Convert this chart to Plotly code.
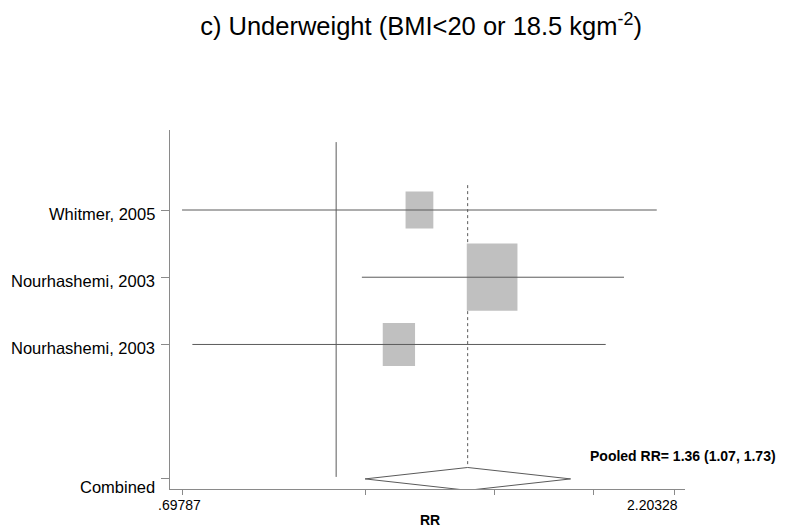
import numpy as np
import plotly.graph_objects as go

# study data
studies = ["Whitmer, 2005", "Nourhashemi, 2003", "Nourhashemi, 2003"]
rr = [1.215, 1.44, 1.158]
ci_lo = [0.6975, 1.062, 0.7145]
ci_hi = [2.116, 1.96, 1.878]
weights = [17.6, 58.6, 23.8]
rows = [1, 2, 3]

pooled_label = "Combined"
pooled_row = 5
pooled = 1.36
pooled_lo = 1.07
pooled_hi = 1.73
null_value = 1

xticks = [0.69787, 1.072, 1.448, 1.825, 2.20328]
xtick_text = [".69787", "", "", "", "2.20328"]

font = "Arial, Liberation Sans, sans-serif"
line_col = "#5a5a5a"
axis_col = "#8a8a8a"

fig = go.Figure()

# null line and pooled estimate line
fig.add_trace(go.Scatter(x=[null_value, null_value], y=[-0.01, pooled_row - 0.03],
                         mode="lines", line=dict(color=line_col, width=1),
                         hoverinfo="skip", showlegend=False))
fig.add_trace(go.Scatter(x=[pooled, pooled], y=[0.63, pooled_row - 0.18],
                         mode="lines", line=dict(color=line_col, width=1, dash="3px,3px"),
                         hoverinfo="skip", showlegend=False))

# weight boxes
for r, est, w in zip(rows, rr, weights):
    hw = 0.00774 * np.sqrt(w)
    hh = 0.0653 * np.sqrt(w)
    xl, xr = est * np.exp(-hw), est * np.exp(hw)
    fig.add_trace(go.Scatter(x=[xl, xr, xr, xl, xl], y=[r - hh, r - hh, r + hh, r + hh, r - hh],
                             mode="lines", fill="toself", fillcolor="#c0c0c0",
                             line=dict(width=0), hoverinfo="skip", showlegend=False))

# confidence intervals
for r, lo, hi in zip(rows, ci_lo, ci_hi):
    fig.add_trace(go.Scatter(x=[lo, hi], y=[r, r], mode="lines",
                             line=dict(color=line_col, width=1),
                             hoverinfo="skip", showlegend=False))

# pooled diamond
dh = 0.17
fig.add_trace(go.Scatter(x=[pooled_lo, pooled, pooled_hi, pooled, pooled_lo],
                         y=[pooled_row, pooled_row - dh, pooled_row, pooled_row + dh, pooled_row],
                         mode="lines", fill="toself", fillcolor="white",
                         line=dict(color=line_col, width=1),
                         hoverinfo="skip", showlegend=False))

annotations = []
for lab, r in zip(studies + [pooled_label], rows + [pooled_row]):
    annotations.append(dict(x=0, xref="paper", y=r, yref="y", text=lab,
                            xanchor="right", yanchor="middle", xshift=-13,
                            yshift=-8 if lab == pooled_label else -4,
                            showarrow=False, font=dict(size=16.5, color="black", family=font)))

for v, t in zip(xticks, xtick_text):
    if t:
        annotations.append(dict(x=np.log10(v), xref="x", y=0, yref="paper", text=t,
                                xanchor="center", yanchor="middle", yshift=-16,
                                xshift=-22 if v > 2 else -3,
                                showarrow=False, font=dict(size=14, color="black", family=font)))

annotations.append(dict(x=0.5, xref="paper", y=-0.0864, yref="paper", text="<b>RR</b>",
                        xshift=2, yanchor="middle", showarrow=False,
                        font=dict(size=14, color="black", family=font)))

annotations.append(dict(x=np.log10(1.80), xref="x", y=4.66, yref="y",
                        text=f"<b>Pooled RR= {pooled:.2f} ({pooled_lo:.2f}, {pooled_hi:.2f})</b>",
                        xanchor="left", yanchor="middle", showarrow=False,
                        font=dict(size=14, color="black", family=font)))

fig.update_layout(
    width=792, height=524,
    margin=dict(l=162, r=115, t=122, b=43),
    plot_bgcolor="white", paper_bgcolor="white",
    title=dict(text="c) Underweight (BMI<20 or 18.5 kgm<sup>-2</sup>)",
               x=0.5215, xanchor="center", y=0.965, yanchor="middle",
               font=dict(size=25.5, color="black", family=font)),
    xaxis=dict(type="log", range=[-0.1687, 0.3542], tickvals=xticks,
               showticklabels=False, ticks="outside", ticklen=5, tickcolor=axis_col,
               showline=True, linecolor=axis_col, linewidth=1,
               showgrid=False, zeroline=False),
    yaxis=dict(range=[5.15, -0.19], tickvals=rows + [pooled_row],
               showticklabels=False, ticks="outside", ticklen=8, tickcolor=axis_col,
               showline=True, linecolor=axis_col, linewidth=1,
               showgrid=False, zeroline=False),
    annotations=annotations,
)

fig.write_html("out.html")
